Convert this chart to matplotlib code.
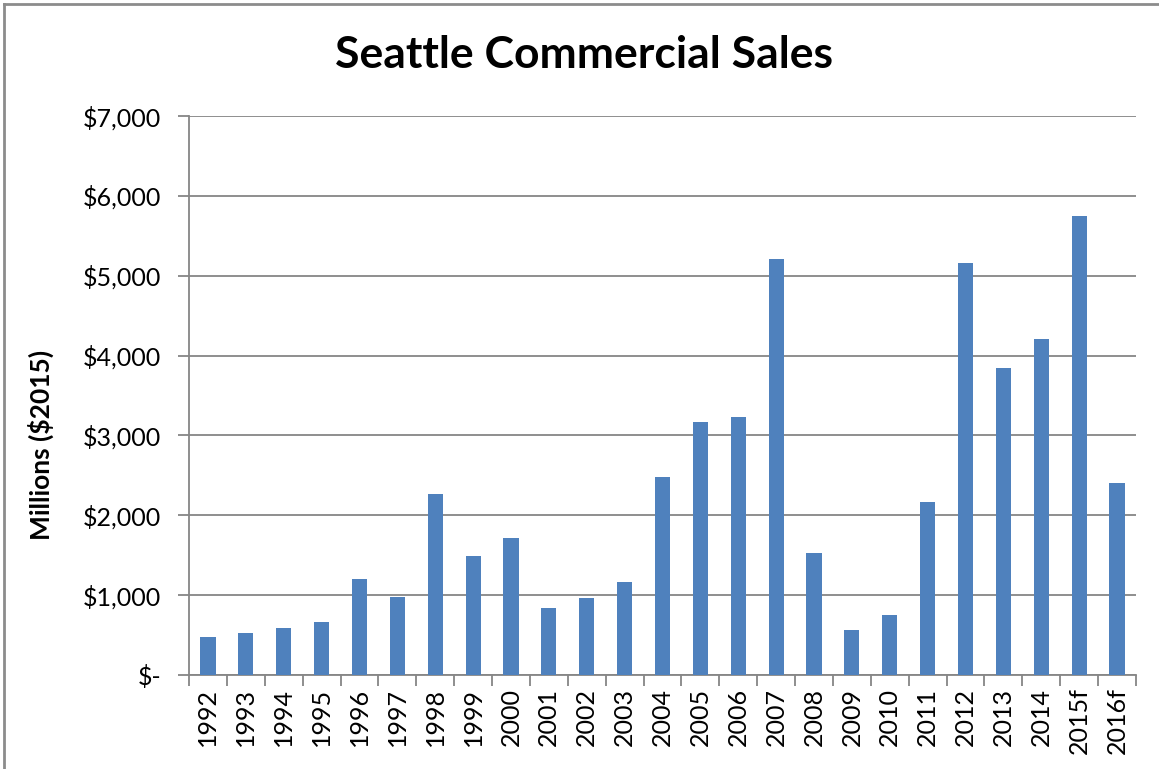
import matplotlib.pyplot as plt
from matplotlib.ticker import FuncFormatter, FixedLocator
from matplotlib.lines import Line2D

years = ["1992", "1993", "1994", "1995", "1996", "1997", "1998", "1999",
         "2000", "2001", "2002", "2003", "2004", "2005", "2006", "2007",
         "2008", "2009", "2010", "2011", "2012", "2013", "2014", "2015f",
         "2016f"]
sales = [470, 522, 588, 660, 1198, 975, 2271, 1493,
         1719, 841, 966, 1167, 2484, 3174, 3225, 5207,
         1531, 565, 753, 2171, 5157, 3839, 4203, 5746,
         2409]
y_ticks = [0, 1000, 2000, 3000, 4000, 5000, 6000, 7000]

plt.rcParams["font.family"] = ["Lato", "DejaVu Sans"]

fig = plt.figure(figsize=(11.59, 7.69), dpi=100)
ax = fig.add_axes([189 / 1159, 1 - 675 / 769, (1136 - 189) / 1159, (675 - 116) / 769])

x = range(len(years))
ax.bar(x, sales, width=0.4, color="#4F81BD", zorder=3)

gray = "#868686"
ax.set_xlim(-0.5, len(years) - 0.5)
ax.set_ylim(0, 7000)
ax.set_yticks(y_ticks)
ax.yaxis.set_major_formatter(FuncFormatter(lambda v, p: "$-" if v == 0 else f"${v:,.0f}"))
ax.grid(axis="y", color=gray, linewidth=1.3, zorder=0)

ax.set_xticks(list(x))
ax.set_xticklabels(years, rotation=90)
ax.xaxis.set_minor_locator(FixedLocator([i - 0.5 for i in range(len(years) + 1)]))
ax.tick_params(axis="x", which="major", length=0, pad=9, labelsize=18)
ax.tick_params(axis="x", which="minor", length=8, color=gray, width=1.3)
ax.tick_params(axis="y", length=8, color=gray, width=1.3, pad=12, labelsize=18)

for side in ["top", "right"]:
    ax.spines[side].set_visible(False)
for side in ["left", "bottom"]:
    ax.spines[side].set_color(gray)
    ax.spines[side].set_linewidth(1.3)

fig.text(584 / 1159, 1 - 55 / 769, "Seattle Commercial Sales", ha="center", va="center",
         fontsize=32, fontweight="bold")
fig.text(41 / 1159, 1 - 445 / 769, "Millions ($2015)", ha="center", va="center",
         rotation=90, fontsize=19, fontweight="bold")

# outer chart border, cropped at the edges
fig.add_artist(Line2D([4 / 1159, 4 / 1159], [0, 1 - 4 / 769], transform=fig.transFigure,
                      color="#8c8c8c", linewidth=2))
fig.add_artist(Line2D([4 / 1159, 1], [1 - 4 / 769, 1 - 4 / 769], transform=fig.transFigure,
                      color="#8c8c8c", linewidth=2))

fig.savefig("out.png", dpi=100)
